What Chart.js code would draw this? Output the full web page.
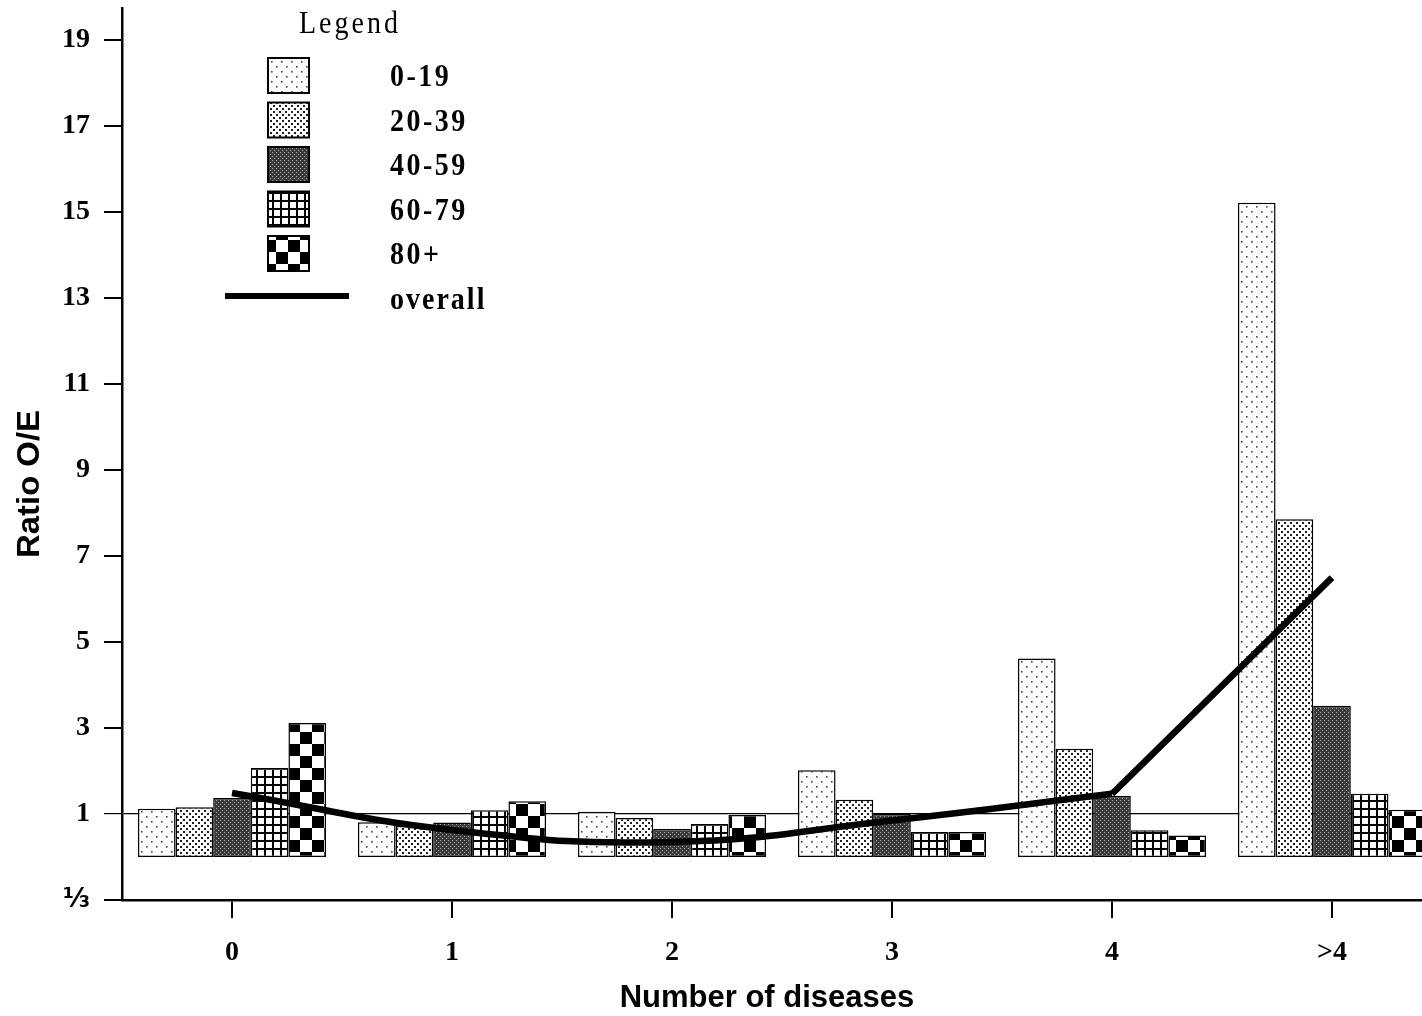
<!DOCTYPE html>
<html>
<head>
<meta charset="utf-8">
<script src="https://cdn.jsdelivr.net/npm/chart.js@4/dist/chart.umd.min.js"></script>
<style>
html,body{margin:0;padding:0;background:#fff;overflow:hidden;}
#wrap{width:1452px;height:1016px;}
</style>
</head>
<body>
<div id="wrap"><canvas id="c" width="1452" height="1016"></canvas></div>
<script>
const categories = ['0', '1', '2', '3', '4', '>4'];
const ageGroups = ['0-19', '20-39', '40-59', '60-79', '80+'];
const v0_19  = [1.12, 0.81, 1.05, 2.02, 4.62, 15.22];
const v20_39 = [1.16, 0.72, 0.91, 1.33, 2.52, 7.86];
const v40_59 = [1.37, 0.80, 0.65, 1.00, 1.42, 3.52];
const v60_79 = [2.07, 1.09, 0.77, 0.58, 0.62, 1.47];
const v80    = [3.12, 1.30, 0.98, 0.58, 0.50, 1.10];
const overallSmooth = [1.49, 0.63, 0.35, 0.85, 1.47, null];
const overallTail   = [null, null, null, null, 1.47, 6.5];
const yTickValues = [-1, 1, 3, 5, 7, 9, 11, 13, 15, 17, 19];
const yTickLabels = ['⅓', '1', '3', '5', '7', '9', '11', '13', '15', '17', '19'];
const xTitle = 'Number of diseases';
const yTitle = 'Ratio O/E';
const legendTitle = 'Legend';

const canvas = document.getElementById('c');
const ctx = canvas.getContext('2d');

function tile(size, draw) {
  const c = document.createElement('canvas');
  c.width = size; c.height = size;
  const g = c.getContext('2d');
  draw(g, size);
  return ctx.createPattern(c, 'repeat');
}
const patterns = [
  tile(10, (g, s) => { g.fillStyle = '#fff'; g.fillRect(0,0,s,s); g.fillStyle = '#444';
    g.fillRect(1,1,1.6,1.6); g.fillRect(6,6,1.6,1.6); }),
  tile(6, (g, s) => { g.fillStyle = '#fff'; g.fillRect(0,0,s,s); g.fillStyle = '#222';
    g.fillRect(0,0,2,2); g.fillRect(3,3,2,2); }),
  tile(4, (g, s) => { g.fillStyle = '#3a3a3a'; g.fillRect(0,0,s,s); g.fillStyle = '#aaa';
    g.fillRect(0,0,1,1); g.fillRect(2,2,1,1); }),
  tile(8, (g, s) => { g.fillStyle = '#fff'; g.fillRect(0,0,s,s); g.fillStyle = '#000';
    g.fillRect(0,0,s,2); g.fillRect(0,0,2,s); }),
  tile(24, (g, s) => { g.fillStyle = '#fff'; g.fillRect(0,0,s,s); g.fillStyle = '#000';
    g.fillRect(0,0,12,12); g.fillRect(12,12,12,12); })
];
const series = [v0_19, v20_39, v40_59, v60_79, v80];

const datasets = series.map((vals, i) => ({
  type: 'bar',
  label: ageGroups[i],
  data: vals,
  backgroundColor: patterns[i],
  borderColor: '#000',
  borderWidth: 1.5,
  borderSkipped: false,
  categoryPercentage: 0.855,
  barPercentage: 1.0,
  order: 2
}));
datasets.push({
  type: 'line', label: 'overall', data: overallSmooth, borderColor: '#000',
  borderWidth: 6.5, pointRadius: 0, tension: 0.45, fill: false, order: 0, spanGaps: false
});
datasets.push({
  type: 'line', label: 'overall_tail', data: overallTail, borderColor: '#000',
  borderWidth: 6.5, pointRadius: 0, tension: 0, fill: false, order: 0
});

function stretchedText(c, text, x, y, sy) {
  c.save();
  c.translate(x, y);
  c.scale(1, sy);
  c.fillText(text, 0, 0);
  c.restore();
}

const legendPlugin = {
  id: 'customLegend',
  afterDraw(chart) {
    const c = chart.ctx;
    c.save();
    c.fillStyle = '#000';
    c.textBaseline = 'middle';
    c.font = '28px "Liberation Serif"';
    c.letterSpacing = '3px';
    c.textAlign = 'center';
    stretchedText(c, legendTitle, 350, 25, 1.1);
    c.textAlign = 'left';
    c.font = 'bold 28px "Liberation Serif"';
    c.letterSpacing = '2.5px';
    const ds = chart.data.datasets;
    for (let i = 0; i < 5; i++) {
      const y = 58 + i * 44.5;
      c.fillStyle = ds[i].backgroundColor;
      c.fillRect(268, y, 41, 35);
      c.strokeStyle = '#000';
      c.lineWidth = 2;
      c.strokeRect(268, y, 41, 35);
      c.fillStyle = '#000';
      stretchedText(c, ds[i].label, 390, y + 20, 1.15);
    }
    c.fillStyle = '#000';
    c.fillRect(225, 293, 124, 6);
    c.letterSpacing = '2px';
    stretchedText(c, ds[5].label, 390, 301, 1.15);

    // axis titles
    c.letterSpacing = '0px';
    c.font = 'bold 31px "Liberation Sans"';
    c.textAlign = 'center';
    c.fillText(xTitle, 767, 998);
    c.save();
    c.translate(30, 484);
    c.rotate(-Math.PI / 2);
    c.scale(1.06, 1);
    c.font = 'bold 31px "Liberation Sans"';
    c.fillText(yTitle, 0, 0);
    c.restore();
    c.restore();
  }
};

new Chart(canvas, {
  data: { labels: categories, datasets },
  options: {
    responsive: false,
    animation: false,
    devicePixelRatio: 1,
    layout: { padding: { top: 8, right: 10, left: 0, bottom: 0 } },
    plugins: { legend: { display: false }, tooltip: { enabled: false } },
    scales: {
      x: {
        type: 'category',
        offset: true,
        grid: { offset: false, drawOnChartArea: false, color: '#000', tickColor: '#000', tickLength: 18, lineWidth: 2 },
        border: { display: true, color: '#000', width: 2.5 },
        ticks: { color: '#000', padding: 18, font: { family: 'Liberation Serif', weight: 'bold', size: 28 } },
        afterFit(scale) { scale.height = 116; scale.paddingLeft = 0; scale.paddingRight = 0; }
      },
      y: {
        type: 'linear',
        min: -1, max: 19.75,
        z: 1,
        afterBuildTicks(scale) { scale.ticks = yTickValues.map(v => ({ value: v })); },
        grid: {
          color: (c) => (c.tick && c.tick.value === 1 ? '#000' : 'rgba(0,0,0,0)'),
          tickColor: '#000', tickLength: 18, lineWidth: (c) => (c.tick && c.tick.value === 1 ? 1.2 : 2)
        },
        border: { display: true, color: '#000', width: 2.5 },
        ticks: {
          color: '#000', padding: 14,
          font: (c) => (c.tick && c.tick.value === -1
            ? { family: 'DejaVu Sans', weight: 'bold', size: 26 }
            : { family: 'Liberation Serif', weight: 'bold', size: 28 }),
          callback: (v) => { const i = yTickValues.indexOf(v); return i >= 0 ? yTickLabels[i] : ''; }
        },
        afterFit(scale) { scale.width = 122; scale.paddingTop = 0; scale.paddingBottom = 0; }
      }
    }
  },
  plugins: [legendPlugin]
});
</script>
</body>
</html>
